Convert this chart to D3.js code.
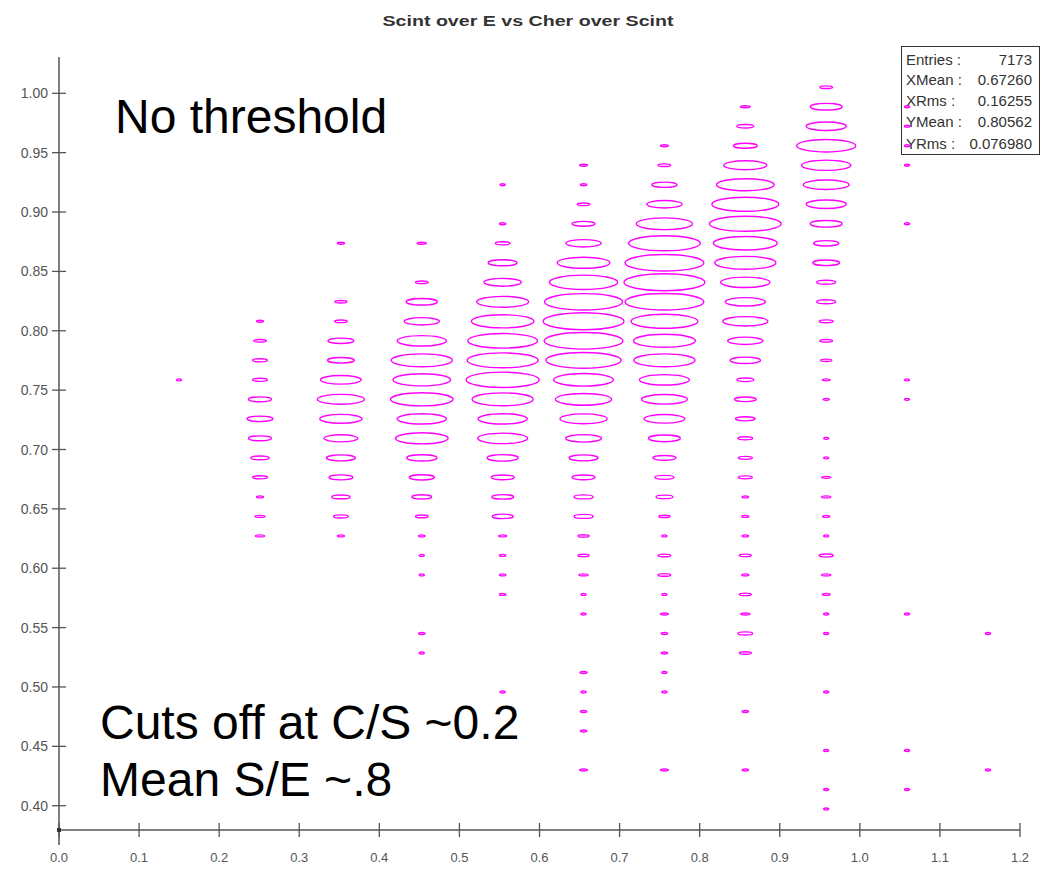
<!DOCTYPE html>
<html><head><meta charset="utf-8">
<script src="https://cdn.jsdelivr.net/npm/d3@7"></script>
<style>html,body{margin:0;padding:0;background:#fff;} svg{display:block;}</style>
</head><body><svg id="chart" width="1043" height="869"></svg>
<script>
// ---------------- data ----------------
const chartTitle = "Scint over E vs Cher over Scint";
const xTickValues = [0.0, 0.1, 0.2, 0.3, 0.4, 0.5, 0.6, 0.7, 0.8, 0.9, 1.0, 1.1, 1.2];
const yTickValues = [0.40, 0.45, 0.50, 0.55, 0.60, 0.65, 0.70, 0.75, 0.80, 0.85, 0.90, 0.95, 1.00];
// histogram binning (C/S on x, S/E on y)
const xBinCenters = [0.150, 0.251, 0.352, 0.453, 0.554, 0.655, 0.756, 0.857, 0.958, 1.059, 1.160];
const xBinWidth = 0.10107;
const yBinLow = 0.3890;
const yBinWidth = 0.01643;
// per x-bin column: [yBinIndex, entries]
const col015 = [[22,6]];
const col025 = [[25,10],[24,18],[23,21],[22,21],[21,33],[20,37],[19,33],[18,26],[17,21],[16,10],[15,14],[14,13]];
const col035 = [[29,10],[26,17],[25,18],[24,37],[23,38],[22,58],[21,67],[20,60],[19,48],[18,41],[17,34],[16,26],[15,21],[14,10]];
const col045 = [[29,13],[27,18],[26,44],[25,50],[24,70],[23,87],[22,82],[21,89],[20,70],[19,75],[18,43],[17,36],[16,28],[15,18],[14,9],[13,7],[12,7],[9,9],[8,7]];
const col055 = [[32,7],[30,9],[29,21],[28,41],[27,53],[26,74],[25,89],[24,99],[23,101],[22,104],[21,87],[20,70],[19,71],[18,44],[17,33],[16,31],[15,30],[14,11],[13,9],[12,9],[11,9],[6,7]];
const col065 = [[33,11],[32,9],[31,18],[30,33],[29,50],[28,75],[27,97],[26,111],[25,115],[24,112],[23,107],[22,85],[21,80],[20,67],[19,51],[18,41],[17,33],[16,27],[15,27],[14,16],[13,16],[12,13],[11,7],[10,7],[7,10],[6,7],[5,9],[4,9],[2,11]];
const col075 = [[34,11],[33,18],[32,36],[31,50],[30,80],[29,102],[28,112],[27,115],[26,112],[25,95],[24,88],[23,87],[22,71],[21,65],[20,58],[19,45],[18,33],[17,27],[16,24],[15,16],[14,7],[13,18],[12,18],[11,7],[10,11],[9,9],[8,9],[7,7],[6,7],[2,11]];
const col085 = [[36,14],[35,24],[34,34],[33,61],[32,82],[31,95],[30,102],[29,91],[28,87],[27,70],[26,57],[25,64],[24,50],[23,43],[22,24],[21,31],[20,28],[19,21],[18,20],[17,20],[16,9],[15,10],[14,9],[13,17],[12,10],[11,17],[10,13],[9,21],[8,17],[5,9],[2,9]];
const col095 = [[37,18],[36,45],[35,57],[34,84],[33,70],[32,65],[31,57],[30,45],[29,36],[28,38],[27,27],[26,27],[25,20],[24,18],[23,16],[22,11],[21,9],[19,7],[18,7],[17,13],[16,13],[15,10],[14,7],[13,20],[12,13],[11,11],[10,7],[9,7],[6,7],[3,7],[1,7],[0,7]];
const col105 = [[36,7],[35,7],[34,7],[33,7],[30,7],[22,7],[21,7],[10,7],[3,7],[1,7]];
const col115 = [[9,7],[2,7]];
const columnCounts = [col015, col025, col035, col045, col055, col065, col075, col085, col095, col105, col115];
const statLabels = ["Entries :", "XMean :", "XRms :", "YMean :", "YRms :"];
const statValues = ["7173", "0.67260", "0.16255", "0.80562", "0.076980"];
const notes = ["No threshold", "Cuts off at C/S ~0.2", "Mean S/E ~.8"];

// ---------------- drawing ----------------
const svg = d3.select("#chart");
const font = "'Liberation Sans', Arial, sans-serif";
const axisColor = "#555";
const x = d3.scaleLinear().domain([0, 1.2]).range([59, 1020]);
const y = d3.scaleLinear().domain([0.40, 1.00]).range([805.7, 93.3]);
const xAxisY = 830;

// title
svg.append("text").attr("x", 528).attr("y", 26).attr("text-anchor", "middle")
  .attr("font-family", font).attr("font-weight", "bold").attr("font-size", 14)
  .attr("textLength", 291).attr("lengthAdjust", "spacingAndGlyphs")
  .attr("fill", "#333").text(chartTitle);

// y axis
const gy = svg.append("g");
gy.append("line").attr("x1", 59).attr("x2", 59).attr("y1", 57).attr("y2", 845)
  .attr("stroke", axisColor).attr("stroke-width", 1.5);
gy.selectAll("line.t").data(yTickValues).join("line").attr("class", "t")
  .attr("x1", 52).attr("x2", 66).attr("y1", d => y(d)).attr("y2", d => y(d))
  .attr("stroke", axisColor).attr("stroke-width", 1.3);
gy.selectAll("text").data(yTickValues).join("text")
  .attr("x", 48).attr("y", d => y(d) + 5).attr("text-anchor", "end")
  .attr("font-family", font).attr("font-size", 14).attr("fill", "#555")
  .text(d => d3.format(".2f")(d));

// x axis
const gx = svg.append("g");
gx.append("line").attr("x1", 59).attr("x2", 1020).attr("y1", xAxisY).attr("y2", xAxisY)
  .attr("stroke", axisColor).attr("stroke-width", 1.5);
gx.selectAll("line.t").data(xTickValues).join("line").attr("class", "t")
  .attr("x1", d => x(d)).attr("x2", d => x(d)).attr("y1", xAxisY - 7).attr("y2", xAxisY + 7)
  .attr("stroke", axisColor).attr("stroke-width", 1.3);
gx.selectAll("text").data(xTickValues).join("text")
  .attr("x", d => x(d)).attr("y", 862).attr("text-anchor", "middle")
  .attr("font-family", font).attr("font-size", 13).attr("fill", "#555")
  .text(d => d3.format(".1f")(d));
svg.append("rect").attr("x", 57).attr("y", xAxisY - 2).attr("width", 4).attr("height", 4).attr("fill", "#333");

// stats box
svg.append("rect").attr("x", 901.5).attr("y", 46.5).attr("width", 138).attr("height", 108)
  .attr("fill", "#fff").attr("stroke", "#333").attr("stroke-width", 1);
const rowY = [65, 85, 106, 127, 149];
svg.selectAll("text.sl").data(statLabels).join("text").attr("class", "sl")
  .attr("x", 906).attr("y", (d, i) => rowY[i]).attr("font-family", font).attr("font-size", 15)
  .attr("fill", "#333").text(d => d);
svg.selectAll("text.sv").data(statValues).join("text").attr("class", "sv")
  .attr("x", 1032).attr("y", (d, i) => rowY[i]).attr("text-anchor", "end")
  .attr("font-family", font).attr("font-size", 15).attr("fill", "#333").text(d => d);

// ellipses (box style: size proportional to entries)
const maxCount = d3.max(columnCounts.flat(), d => d[1]);
const bwPx = x(xBinWidth) - x(0);
const bhPx = y(0) - y(yBinWidth);
const cells = [];
columnCounts.forEach((col, i) => col.forEach(([k, n]) => cells.push({xc: xBinCenters[i], yc: yBinLow + (k + 0.5) * yBinWidth, n})));
svg.append("g").selectAll("ellipse").data(cells).join("ellipse")
  .attr("cx", d => x(d.xc)).attr("cy", d => y(d.yc))
  .attr("rx", d => Math.max(2.5, d.n / maxCount * bwPx / 2))
  .attr("ry", d => Math.max(1, d.n / maxCount * bhPx * 0.87 / 2))
  .attr("fill", "none").attr("stroke", "#ff00ff").attr("stroke-width", 1.4);

// annotations
const noteX = [115, 100, 100];
const noteY = [133, 739, 796];
svg.selectAll("text.note").data(notes).join("text").attr("class", "note")
  .attr("x", (d, i) => noteX[i]).attr("y", (d, i) => noteY[i])
  .attr("font-family", font).attr("font-size", 48).attr("fill", "#000").text(d => d);
</script></body></html>
